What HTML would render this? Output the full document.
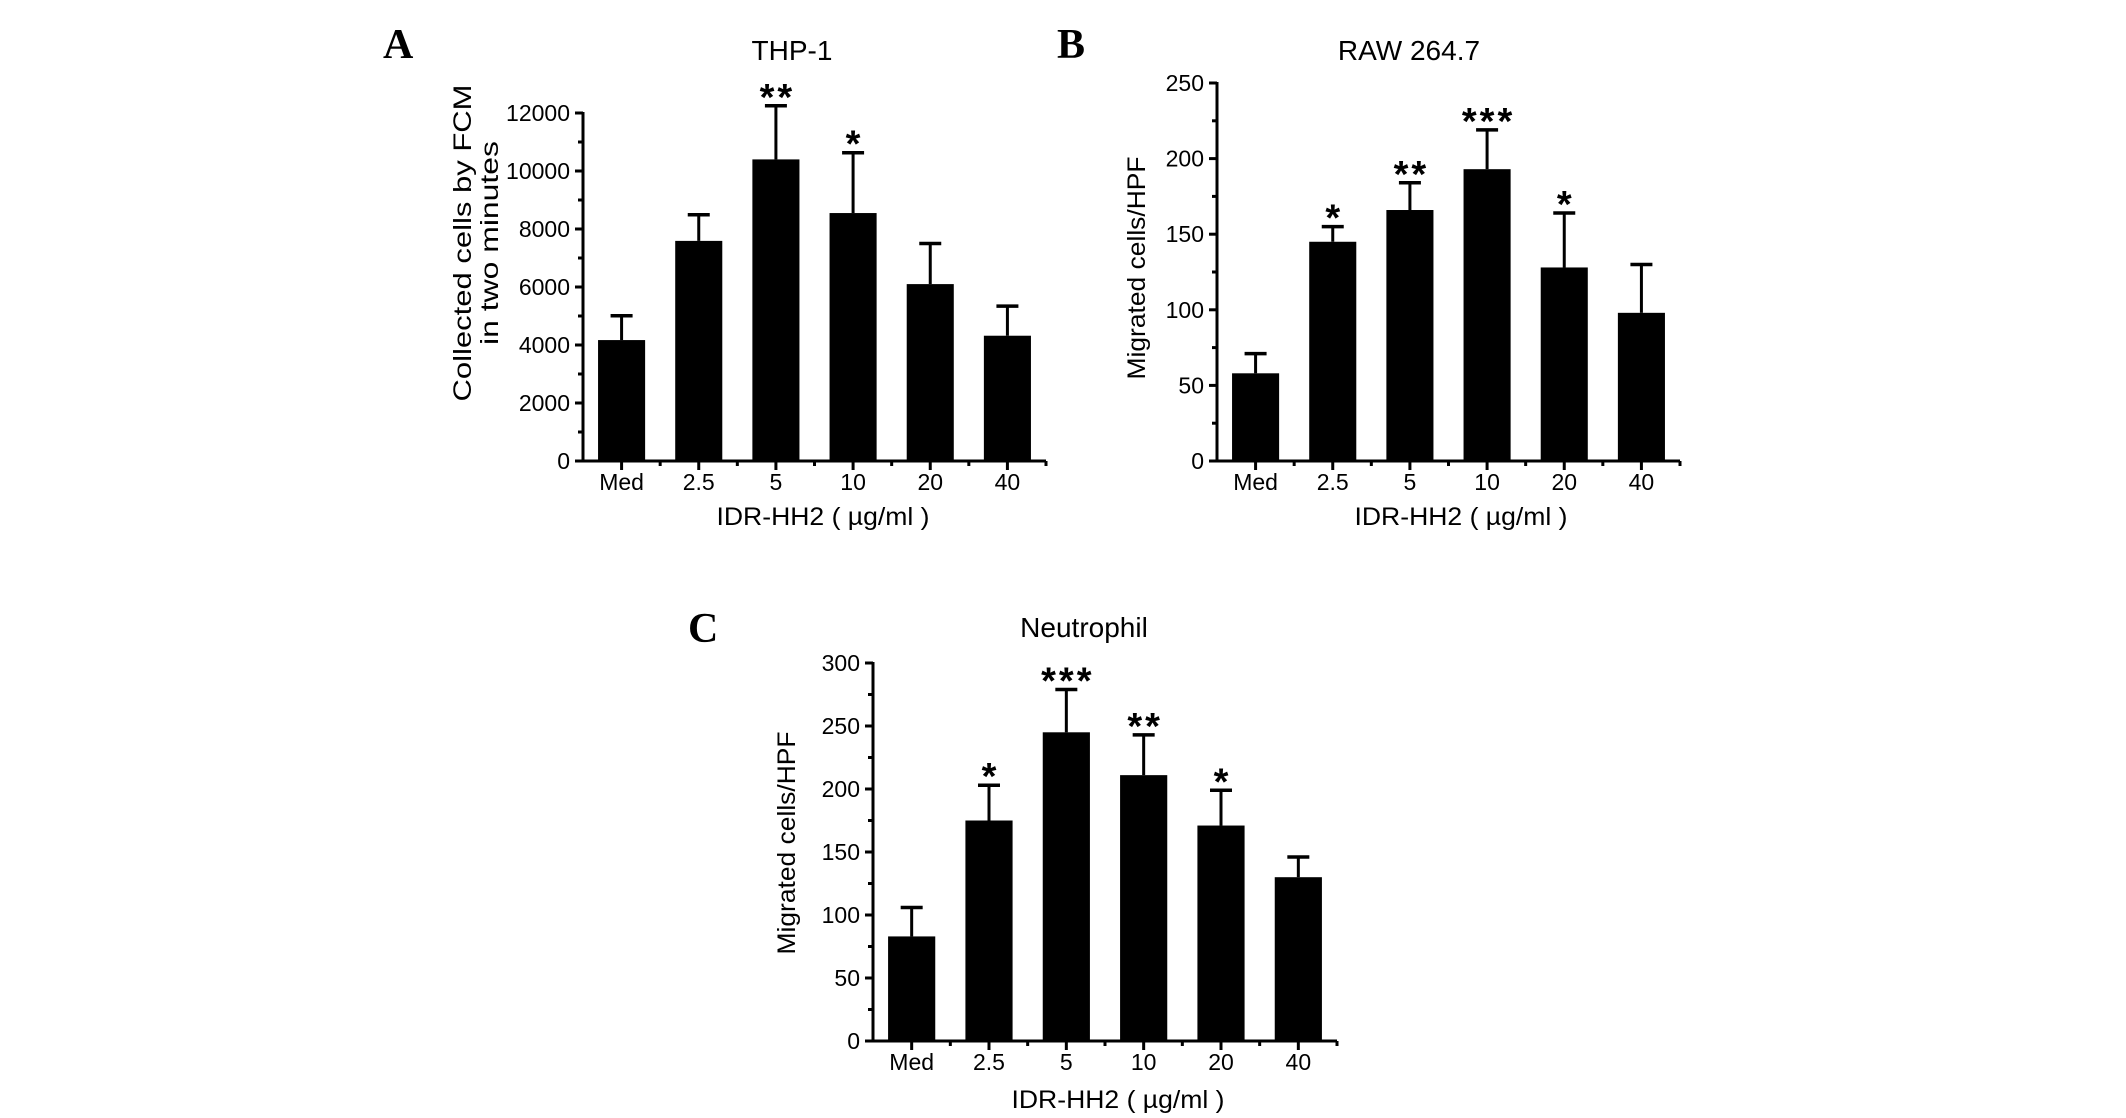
<!DOCTYPE html>
<html><head><meta charset="utf-8"><style>
html,body{margin:0;padding:0;background:#fff;}
svg{display:block;}
text{font-family:"Liberation Sans",Arial,sans-serif;fill:#000;}
</style></head><body>
<svg id="fig" width="2126" height="1118" viewBox="0 0 2126 1118" xmlns="http://www.w3.org/2000/svg"></svg>
<script>
// ---- data ----
const categories = ["Med","2.5","5","10","20","40"];
const thpMeans = [4170,7590,10400,8550,6100,4320];
const thpErrTops = [5010,8490,12250,10630,7500,5340];
const thpStars = ["","","**","*","",""];
const thpTicks = [0,2000,4000,6000,8000,10000,12000];
const rawMeans = [58,145,166,193,128,98];
const rawErrTops = [71,155,184,219,164,130];
const rawStars = ["","*","**","***","*",""];
const rawTicks = [0,50,100,150,200,250];
const neuMeans = [83,175,245,211,171,130];
const neuErrTops = [106,203,279,243,199,146];
const neuStars = ["","*","***","**","*",""];
const neuTicks = [0,50,100,150,200,250,300];

const NS = "http://www.w3.org/2000/svg";
const svg = document.getElementById('fig');
function mk(tag, attrs, parent){
  const e = document.createElementNS(NS, tag);
  for (const k in attrs) e.setAttribute(k, attrs[k]);
  (parent||svg).appendChild(e);
  return e;
}
function txt(parent, x, y, s, size, anchor, extra){
  const t = mk('text', Object.assign({x:x, y:y, 'font-size':size, 'text-anchor':anchor||'middle'}, extra||{}), parent);
  t.textContent = s;
  return t;
}

function panel(cfg){
  const g = mk('g', {});
  
  
  const x0 = cfg.x0, x1 = cfg.x1, y0 = cfg.y0, yTop = cfg.yTop;
  const vmax = cfg.ticks[cfg.ticks.length-1];
  const yScale = v => y0 - (v / vmax) * (y0 - yTop);
  const band = (x1 - x0) / categories.length;
  const xc = i => x0 + band * (i + 0.5);
  const bw = band * 0.61;

  categories.forEach((c, i) => {
    const yv = yScale(cfg.means[i]);
    const yr = yScale(cfg.errs[i]);
    const eline = mk('line', {x1:xc(i), x2:xc(i), y1:yv, y2:yr, stroke:'#000', 'stroke-width':3}, g);
    
    
    const cap = mk('line', {x1:xc(i)-11, x2:xc(i)+11, y1:yr, y2:yr, stroke:'#000', 'stroke-width':3.5}, g);
    
    
    const r = mk('rect', {x:xc(i)-bw/2, y:yv, width:bw, height:y0-yv, fill:'#000'}, g);
    
    
    if (cfg.stars[i]) {
      const st = txt(g, xc(i) + 1.5, yr + 4, cfg.stars[i], 38, 'middle', {'font-weight':'bold', style:'letter-spacing:3px'});
      
      
    }
    const lab = txt(g, xc(i), y0 + 29, c, 23, 'middle');
    
    
    mk('line', {x1:xc(i), x2:xc(i), y1:y0, y2:y0+9, stroke:'#000', 'stroke-width':3}, g);
    mk('line', {x1:x0+band*(i+1), x2:x0+band*(i+1), y1:y0, y2:y0+5, stroke:'#000', 'stroke-width':3}, g);
  });

  const ya = mk('line', {x1:x0, x2:x0, y1:y0+1.5, y2:yTop-1, stroke:'#000', 'stroke-width':3}, g);
  
  
  const xa = mk('line', {x1:x0-1.5, x2:x1, y1:y0, y2:y0, stroke:'#000', 'stroke-width':3}, g);
  
  

  cfg.ticks.forEach((t, k) => {
    const y = yScale(t);
    mk('line', {x1:x0-8, x2:x0, y1:y, y2:y, stroke:'#000', 'stroke-width':3}, g);
    if (k < cfg.ticks.length-1) {
      const ym = yScale((t + cfg.ticks[k+1]) / 2);
      mk('line', {x1:x0-5, x2:x0, y1:ym, y2:ym, stroke:'#000', 'stroke-width':3}, g);
    }
    const tl = txt(g, x0 - 13, y + 8, String(t), 23, 'end');
    
    
  });

  const ti = txt(g, cfg.titleX, cfg.titleY, cfg.title, 28, 'middle');
  
  
  const pl = txt(g, cfg.labX, cfg.labY, cfg.label, 42, 'start', {style:'font-family:"Liberation Serif",serif;font-weight:bold'});
  
  
  const xt = txt(g, cfg.xtX, cfg.xtY, 'IDR-HH2 ( µg/ml )', 25, 'middle', {textLength:213, lengthAdjust:'spacingAndGlyphs'});
  
  
  cfg.ytitle.forEach((ln, k) => {
    const yt = txt(g, 0, 0, ln.s, 25, 'middle', {transform:'translate(' + ln.x + ',' + cfg.ytY + ') rotate(-90)', textLength:ln.len, lengthAdjust:'spacingAndGlyphs'});
    
    
  });
}

panel({name:'panel-a-thp1', x0:583, x1:1046, y0:461, yTop:113, ticks:thpTicks, means:thpMeans, errs:thpErrTops, stars:thpStars,
  title:'THP-1', titleX:792, titleY:60, label:'A', labX:383, labY:58, xtX:823, xtY:525,
  ytY:243, ytitle:[{s:'Collected cells by FCM', x:471, len:317},{s:'in two minutes', x:498, len:204}]});
panel({name:'panel-b-raw264', x0:1217, x1:1680, y0:461, yTop:83, ticks:rawTicks, means:rawMeans, errs:rawErrTops, stars:rawStars,
  title:'RAW 264.7', titleX:1409, titleY:60, label:'B', labX:1057, labY:58, xtX:1461, xtY:525,
  ytY:268, ytitle:[{s:'Migrated cells/HPF', x:1145, len:223}]});
panel({name:'panel-c-neutrophil', x0:873, x1:1337, y0:1041, yTop:663, ticks:neuTicks, means:neuMeans, errs:neuErrTops, stars:neuStars,
  title:'Neutrophil', titleX:1084, titleY:637, label:'C', labX:688, labY:642, xtX:1118, xtY:1108,
  ytY:843, ytitle:[{s:'Migrated cells/HPF', x:795, len:223}]});
</script>
</body></html>
